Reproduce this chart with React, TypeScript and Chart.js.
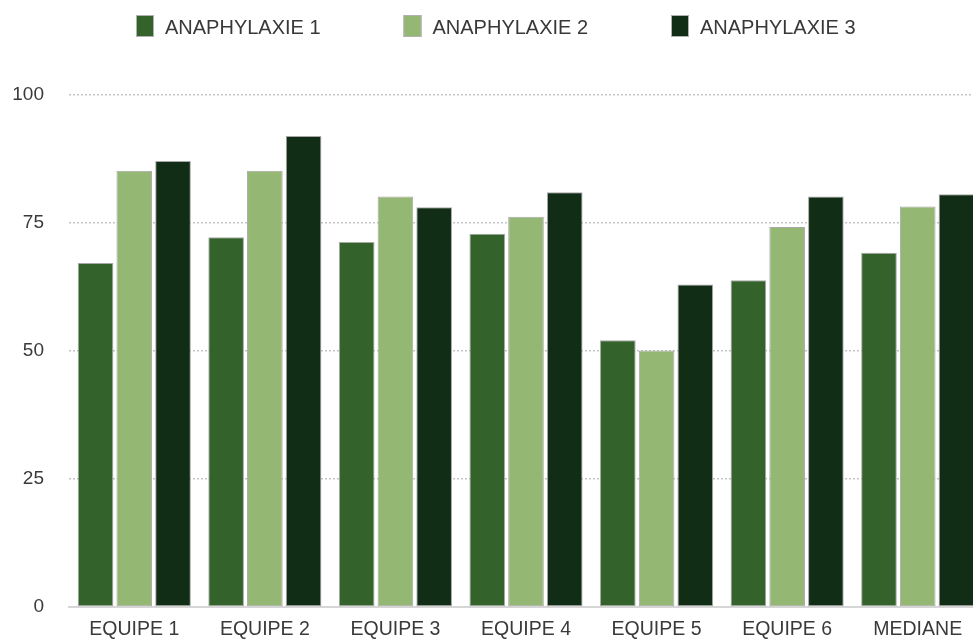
import React, { useEffect, useRef } from "react";
import { Chart, registerables } from "chart.js";

Chart.register(...registerables);

const categories = ["EQUIPE 1", "EQUIPE 2", "EQUIPE 3", "EQUIPE 4", "EQUIPE 5", "EQUIPE 6", "MEDIANE"];
const seriesNames = ["ANAPHYLAXIE 1", "ANAPHYLAXIE 2", "ANAPHYLAXIE 3"];
const anaphylaxie1 = [67.2, 72.2, 71.3, 72.9, 52.1, 63.8, 69.2];
const anaphylaxie2 = [85.2, 85.2, 80.2, 76.2, 50.1, 74.2, 78.2];
const anaphylaxie3 = [87.1, 92.0, 78.1, 81.0, 63.0, 80.2, 80.6];
const yTicks = [0, 25, 50, 75, 100];

const colors = ["#33622b", "#94b774", "#122d16"];
const FONT = "'Liberation Sans', Arial, Helvetica, sans-serif";

const legendPlugin = {
  id: "customLegend",
  afterDraw(chart: any) {
    const ctx = chart.ctx;
    const startX = 136;
    const step = 267.5;
    const boxW = 18;
    const boxH = 22;
    const boxY = 15;
    ctx.save();
    chart.data.datasets.forEach((ds: any, i: number) => {
      const x = startX + i * step;
      ctx.fillStyle = ds.backgroundColor;
      ctx.fillRect(x, boxY, boxW, boxH);
      ctx.strokeStyle = "#b0b0b0";
      ctx.lineWidth = 1;
      ctx.strokeRect(x + 0.5, boxY + 0.5, boxW - 1, boxH - 1);
      ctx.fillStyle = "#383838";
      ctx.font = `20px ${FONT}`;
      ctx.textBaseline = "middle";
      ctx.textAlign = "left";
      ctx.fillText(ds.label, x + boxW + 11, boxY + boxH / 2 + 2);
    });
    ctx.restore();
  },
};

export default function App() {
  const ref = useRef<HTMLCanvasElement | null>(null);

  useEffect(() => {
    if (!ref.current) return;
    const values = [anaphylaxie1, anaphylaxie2, anaphylaxie3];
    const chart = new Chart(ref.current, {
      type: "bar",
      data: {
        labels: categories,
        datasets: seriesNames.map((name, i) => ({
          label: name,
          data: values[i],
          backgroundColor: colors[i],
          borderColor: "#a8a8a8",
          borderWidth: 1,
          borderSkipped: false,
          categoryPercentage: 0.89,
          barPercentage: 0.92,
        })),
      },
      options: {
        animation: false,
        responsive: true,
        maintainAspectRatio: false,
        layout: { padding: { top: 95, left: 0, right: 0, bottom: 0 } },
        plugins: {
          legend: { display: false },
          tooltip: { enabled: false },
        },
        scales: {
          x: {
            grid: { display: false, drawTicks: false },
            border: { display: true, color: "#d6d6d6", width: 2 },
            ticks: {
              padding: 11,
              color: "#3a3a3a",
              font: { family: FONT, size: 19.5 },
            },
            afterFit: (scale: any) => {
              scale.height = 32;
            },
          },
          y: {
            min: 0,
            max: 100,
            afterBuildTicks: (scale: any) => {
              scale.ticks = yTicks.map((v) => ({ value: v }));
            },
            grid: {
              color: "#c4c4c4",
              lineWidth: 1.5,
              drawTicks: true,
              tickLength: 25,
              tickColor: "rgba(0,0,0,0)",
            },
            border: { display: false, dash: [2, 2] },
            ticks: {
              padding: 0,
              color: "#3a3a3a",
              font: { family: FONT, size: 19 },
            },
            afterFit: (scale: any) => {
              scale.width = 69;
            },
          },
        },
      },
      plugins: [legendPlugin],
    });
    return () => chart.destroy();
  }, []);

  return (
    <div style={{ position: "fixed", left: 0, top: 0, width: 973, height: 639, overflow: "hidden", background: "#fff" }}>
      <div style={{ position: "relative", width: 983, height: 639 }}>
        <canvas ref={ref} />
      </div>
    </div>
  );
}
